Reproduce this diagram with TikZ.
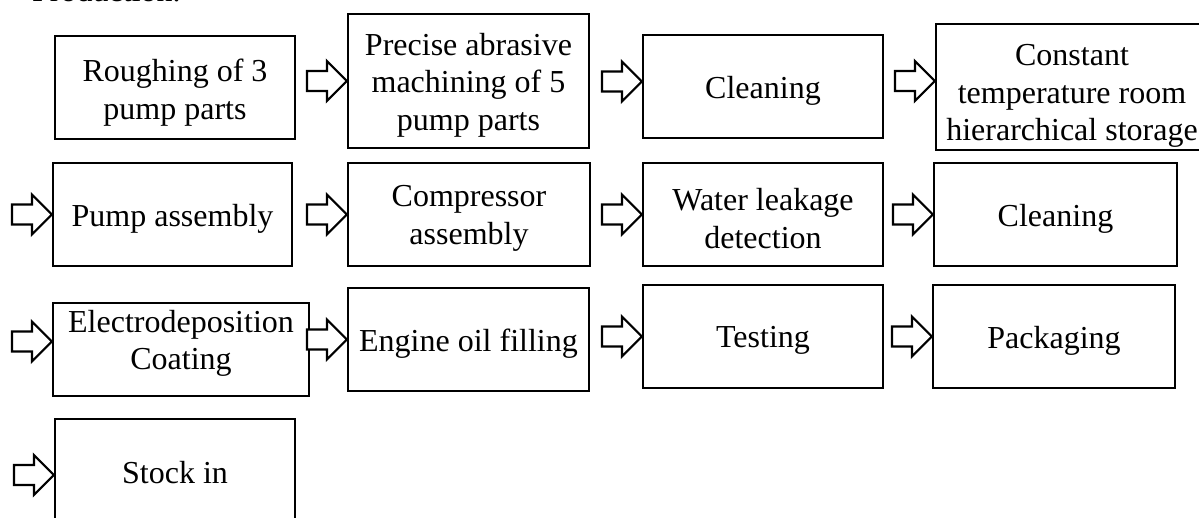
\documentclass[tikz,border=0pt]{standalone}
\usepackage{fontspec}
\setmainfont{Liberation Serif}

\tikzset{
  stepbox/.style={draw, line width=2.2pt, inner sep=0pt},
  steptext/.style={inner sep=0pt, align=center, font=\fontsize{32}{37.5}\selectfont},
  arrowline/.style={draw, line width=2.2pt, line join=miter, fill=white}
}

% block arrow whose tip sits on the given point
\newcommand{\blockarrow}[1]{%
  \draw[arrowline] #1 -- ++(-20,20) -- ++(0,-10) -- ++(-20,0) -- ++(0,-20)
    -- ++(20,0) -- ++(0,-10) -- cycle;}

\begin{document}
\begin{tikzpicture}[x=1pt,y=-1pt]
\useasboundingbox (0,0) rectangle (1199,517);
\clip (0,0) rectangle (1199,517);

% section heading, cut by the top edge
\node[anchor=base west, inner sep=0pt, font=\fontsize{32}{37}\selectfont] (head) at (32,1) {Production.};

% row 1
\node[stepbox, minimum width=240pt, minimum height=103pt] (b1) at (175,87.5) {};
\node[steptext] (t1) at ([yshift=-5pt]b1.center) {Roughing of 3\\pump parts};
\node[stepbox, minimum width=241pt, minimum height=134pt] (b2) at (468.5,81) {};
\node[steptext] (t2) at ([yshift=-4pt]b2.center) {Precise abrasive\\machining of 5\\pump parts};
\node[stepbox, minimum width=240pt, minimum height=103pt] (b3) at (763,86.5) {};
\node[steptext] (t3) at ([yshift=-4pt]b3.center) {Cleaning};
\node[stepbox, minimum width=272pt, minimum height=126pt] (b4) at (1072,87) {};
\node[steptext] (t4) at ([yshift=-9pt]b4.center) {Constant\\temperature room\\hierarchical storage};

% row 2
\node[stepbox, minimum width=239pt, minimum height=103pt] (b5) at (172.5,214.5) {};
\node[steptext] (t5) at ([yshift=-4pt]b5.center) {Pump assembly};
\node[stepbox, minimum width=242pt, minimum height=103pt] (b6) at (469,214.5) {};
\node[steptext] (t6) at ([yshift=-4pt]b6.center) {Compressor\\assembly};
\node[stepbox, minimum width=240pt, minimum height=103pt] (b7) at (763,214.5) {};
\node[steptext] (t7) at ([yshift=-4pt]b7.center) {Water leakage\\detection};
\node[stepbox, minimum width=243pt, minimum height=103pt] (b8) at (1055.5,214.5) {};
\node[steptext] (t8) at ([yshift=-4pt]b8.center) {Cleaning};

% row 3
\node[stepbox, minimum width=256pt, minimum height=93pt] (b9) at (181,349.5) {};
\node[steptext] (t9) at ([yshift=6pt]b9.center) {Electrodeposition\\Coating};
\node[stepbox, minimum width=241pt, minimum height=103pt] (b10) at (468.5,339.5) {};
\node[steptext] (t10) at ([yshift=-4pt]b10.center) {Engine oil filling};
\node[stepbox, minimum width=240pt, minimum height=103pt] (b11) at (763,336.5) {};
\node[steptext] (t11) at ([yshift=-4pt]b11.center) {Testing};
\node[stepbox, minimum width=242pt, minimum height=103pt] (b12) at (1054,336.5) {};
\node[steptext] (t12) at ([yshift=-4pt]b12.center) {Packaging};

% row 4
\node[stepbox, minimum width=240pt, minimum height=106pt] (b13) at (175,472) {};
\node[steptext] (t13) at ([yshift=-1pt]b13.center) {Stock in};

% flow arrows
\blockarrow{(b2.west)}
\blockarrow{([yshift=5pt]b3.west)}
\blockarrow{([yshift=6pt]b4.west)}
\blockarrow{(b5.west)}
\blockarrow{(b6.west)}
\blockarrow{(b7.west)}
\blockarrow{(b8.west)}
\blockarrow{([yshift=8pt]b9.west)}
\blockarrow{(b10.west)}
\blockarrow{(b11.west)}
\blockarrow{(b12.west)}
\blockarrow{([yshift=-3pt]b13.west)}
\end{tikzpicture}
\end{document}
